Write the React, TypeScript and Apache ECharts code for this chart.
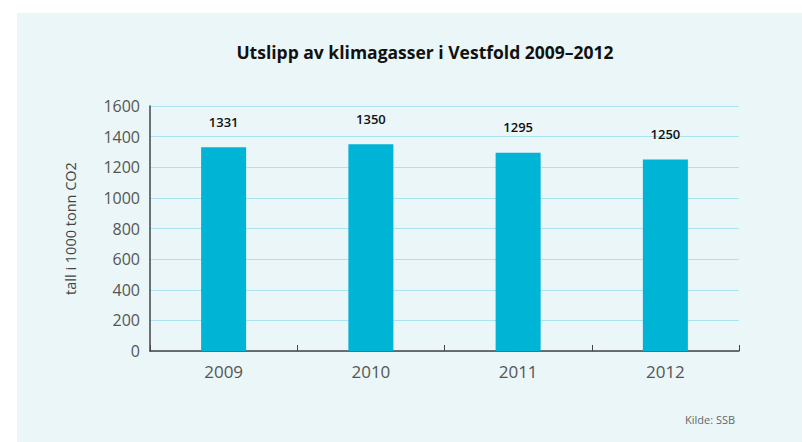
import React, { useEffect, useRef } from "react";
import * as echarts from "echarts";

const categories = ["2009", "2010", "2011", "2012"];
const values = [1331, 1350, 1295, 1250];
const titleText = "Utslipp av klimagasser i Vestfold 2009–2012";
const yAxisName = "tall i 1000 tonn CO2";
const sourceText = "Kilde: SSB";

export default function App() {
  const ref = useRef<HTMLDivElement>(null);
  useEffect(() => {
    const chart = echarts.init(ref.current!, null, { renderer: "svg" });
    chart.setOption({
      animation: false,
      backgroundColor: "#ffffff",
      textStyle: { fontFamily: "Open Sans" },
      graphic: [
        {
          type: "rect",
          shape: { x: 17, y: 13, width: 785, height: 429 },
          style: { fill: "#eaf6f8" },
          z: -10,
          silent: true,
        },
        {
          type: "text",
          left: 685,
          top: 414,
          style: { text: sourceText, fill: "#666", font: "11px 'Open Sans'" },
        },
      ],
      title: {
        text: titleText,
        left: 420,
        textAlign: "center",
        top: 38,
        textStyle: { fontSize: 17.5, fontWeight: "bold", color: "#111", fontFamily: "Open Sans" },
      },
      grid: { left: 150, right: 63, top: 106, bottom: 91 },
      xAxis: {
        type: "category",
        data: categories,
        axisLine: { lineStyle: { color: "#444", width: 1.5 } },
        axisTick: { show: true, inside: true, length: 6, lineStyle: { color: "#444" } },
        axisLabel: { fontSize: 17, color: "#555", margin: 12 },
      },
      yAxis: {
        type: "value",
        min: 0,
        max: 1600,
        interval: 200,
        name: yAxisName,
        nameLocation: "middle",
        nameRotate: 90,
        nameGap: 72,
        nameTextStyle: { fontSize: 14.5, color: "#444" },
        axisLine: { show: true, lineStyle: { color: "#444", width: 1.5 } },
        axisTick: { show: false },
        axisLabel: { fontSize: 16, color: "#555", margin: 10, formatter: (v: number) => String(v) },
        splitLine: { lineStyle: { color: "#a9e3f0", width: 1 } },
      },
      series: [
        {
          type: "bar",
          data: values,
          barWidth: 45,
          itemStyle: { color: "#00b4d5" },
          label: {
            show: true,
            position: "top",
            distance: 19,
            fontSize: 13,
            fontWeight: 600,
            color: "#111",
          },
        },
      ],
    });
    return () => chart.dispose();
  }, []);
  return (
    <div
      ref={ref}
      style={{ position: "fixed", left: 0, top: 0, width: 802, height: 442 }}
    />
  );
}
